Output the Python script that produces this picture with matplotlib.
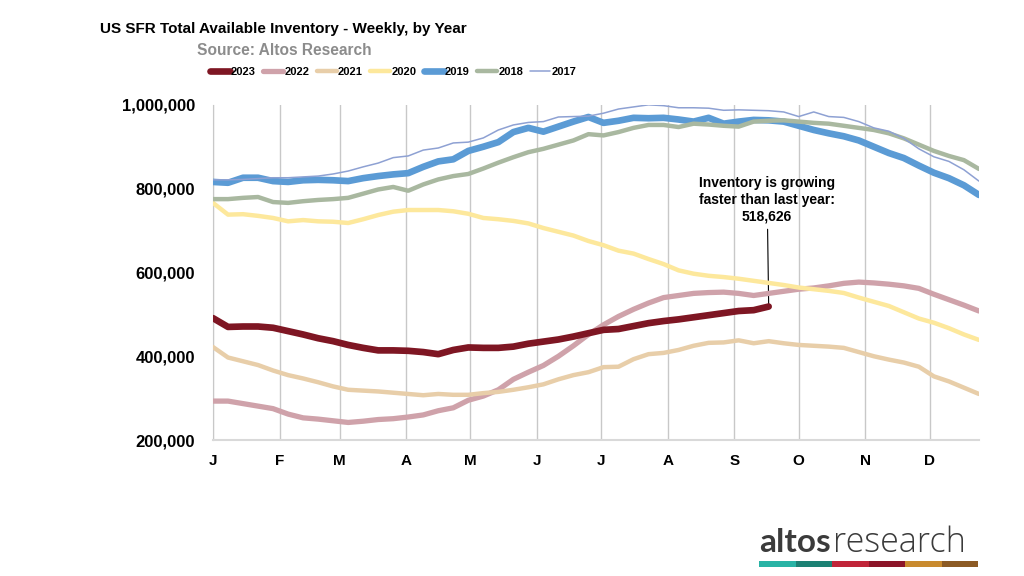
import numpy as np
import matplotlib.pyplot as plt
from matplotlib.patches import Rectangle
from matplotlib.ticker import FuncFormatter

# weekly inventory, thousands of homes, week 0 = first week of January
inv_2023 = [491, 470, 471, 471, 468, 460, 452, 443, 436, 427, 420, 414, 414, 413, 410, 405,
            415, 421, 420, 420, 423, 430, 435, 440, 447, 455, 463, 465, 472, 479, 484, 488,
            493, 498, 503, 508, 510, 518.626]
inv_2022 = [293, 293, 287, 281, 275, 262, 253, 250, 246, 242, 245, 249, 251, 255, 260, 270,
            277, 295, 305, 320, 345, 362, 378, 400, 425, 452, 475, 495, 512, 527, 540, 545,
            550, 552, 553, 550, 545, 550, 555, 560, 563, 568, 574, 577, 575, 572, 568, 562,
            548, 535, 522, 508]
inv_2021 = [422, 397, 388, 379, 366, 355, 347, 338, 328, 320, 318, 316, 313, 310, 307, 310,
            308, 308, 312, 315, 320, 326, 333, 345, 355, 362, 374, 375, 393, 405, 408, 415,
            425, 432, 433, 438, 431, 436, 431, 427, 425, 423, 420, 410, 400, 392, 385, 375,
            352, 340, 325, 310]
inv_2020 = [766, 738, 739, 735, 730, 722, 725, 722, 721, 718, 727, 737, 745, 749, 749, 749,
            746, 740, 730, 727, 723, 717, 706, 697, 688, 675, 665, 652, 645, 632, 620, 605,
            597, 592, 589, 585, 580, 575, 570, 564, 560, 556, 551, 540, 530, 520, 505, 490,
            480, 467, 452, 439]
inv_2019 = [816, 814, 826, 826, 818, 816, 820, 821, 820, 818, 825, 830, 834, 837, 852, 865,
            870, 890, 900, 911, 935, 945, 936, 948, 960, 971, 957, 962, 969, 968, 969, 965,
            960, 969, 955, 960, 964, 963, 960, 950, 940, 932, 925, 915, 900, 885, 873, 855,
            838, 825, 808, 785]
inv_2018 = [775, 775, 778, 780, 768, 766, 770, 773, 775, 778, 788, 798, 804, 795, 810, 822,
            830, 835, 848, 862, 875, 887, 895, 905, 915, 930, 927, 935, 945, 952, 952, 947,
            955, 953, 950, 948, 960, 962, 963, 960, 957, 955, 950, 945, 940, 932, 920, 905,
            890, 878, 868, 847]
inv_2017 = [821, 821, 822, 824, 826, 826, 828, 830, 835, 842, 852, 861, 874, 878, 892, 897,
            909, 911, 921, 940, 952, 958, 960, 971, 972, 973, 980, 990, 995, 1000, 998, 993,
            993, 992, 987, 988, 987, 986, 983, 972, 983, 972, 970, 960, 945, 937, 920, 895,
            876, 865, 845, 818]

years = ["2023", "2022", "2021", "2020", "2019", "2018", "2017"]
series = [inv_2023, inv_2022, inv_2021, inv_2020, inv_2019, inv_2018, inv_2017]
colors = ["#7e1623", "#cfa2aa", "#e8cea9", "#fde89c", "#5b9bd5", "#a9b8a0", "#8ea1d3"]
widths = [4.8, 3.8, 3.2, 3.2, 4.8, 3.2, 1.1]

months = ["J", "F", "M", "A", "M", "J", "J", "A", "S", "O", "N", "D"]
month_days = [31, 28, 31, 30, 31, 30, 31, 31, 30, 31, 30, 31]

logo_colors = ["#29b3a5", "#1c8174", "#c02539", "#8c1528", "#c98a2e", "#8c5a24"]

plt.rcParams["font.family"] = ["Liberation Sans", "DejaVu Sans"]

fig = plt.figure(figsize=(10.24, 5.76), dpi=100)
ax = fig.add_axes([0.208, 0.236, 0.748, 0.582])

for i, (yr, vals) in enumerate(zip(years, series)):
    vals = np.array(vals) * 1000
    z = 10 if yr == "2023" else 3 + i
    ax.plot(np.arange(len(vals)), vals, color=colors[i], lw=widths[i], label=yr,
            solid_capstyle="round", zorder=z)

ax.set_xlim(0, 51)
ax.set_ylim(200000, 1000000)
ax.set_yticks(np.arange(200000, 1000001, 200000))
ax.yaxis.set_major_formatter(FuncFormatter(lambda v, p: f"{v:,.0f}"))
month_starts = np.cumsum([0] + month_days[:-1]) / 7
ax.set_xticks(month_starts)
ax.set_xticklabels(months)
ax.tick_params(length=0)
ax.tick_params(axis="y", pad=13, labelsize=12)
ax.tick_params(axis="x", pad=10, labelsize=11)
for lab in ax.get_xticklabels() + ax.get_yticklabels():
    lab.set_fontweight("bold")
ax.grid(axis="x", color="#c8c8c8", lw=1)
ax.spines["top"].set_visible(False)
ax.spines["right"].set_visible(False)
ax.spines["left"].set_color("#c8c8c8")
ax.spines["bottom"].set_color("#d9d9d9")
ax.spines["bottom"].set_linewidth(1.5)

ax.annotate("Inventory is growing\nfaster than last year:\n518,626",
            xy=(len(inv_2023) - 1, inv_2023[-1] * 1000), xytext=(36.9, 773000),
            ha="center", va="center", fontsize=10, fontweight="bold", linespacing=1.25,
            arrowprops=dict(arrowstyle="-", color="black", lw=0.8, shrinkA=2, shrinkB=0))

fig.text(0.098, 0.949, "US SFR Total Available Inventory - Weekly, by Year",
         fontsize=11, fontweight="bold", va="center")
fig.text(0.192, 0.912, "Source: Altos Research", fontsize=11.2, fontweight="bold",
         color="#8c8c8c", va="center")

fig.legend(loc="center", bbox_to_anchor=(0.384, 0.875), ncol=7, frameon=False,
           handlelength=1.8, handletextpad=0.12, columnspacing=0.65,
           prop=dict(weight="bold", size=8))

# logo
fig.text(759 / 1024, 1 - 552 / 576, "altos", family=["Lato", "DejaVu Sans"],
         fontweight="bold", fontsize=24, color="#3b3b3b", va="baseline")
fig.text(833 / 1024, 1 - 552 / 576, "research", family=["Open Sans", "DejaVu Sans"],
         fontweight="light", fontsize=24.5, color="#3b3b3b", va="baseline")
seg = (978 - 759) / len(logo_colors)
for k, c in enumerate(logo_colors):
    fig.patches.append(Rectangle(((759 + k * seg) / 1024, 1 - 567 / 576), seg / 1024, 6 / 576,
                                 transform=fig.transFigure, color=c, lw=0))

fig.savefig("out.png", dpi=100)
